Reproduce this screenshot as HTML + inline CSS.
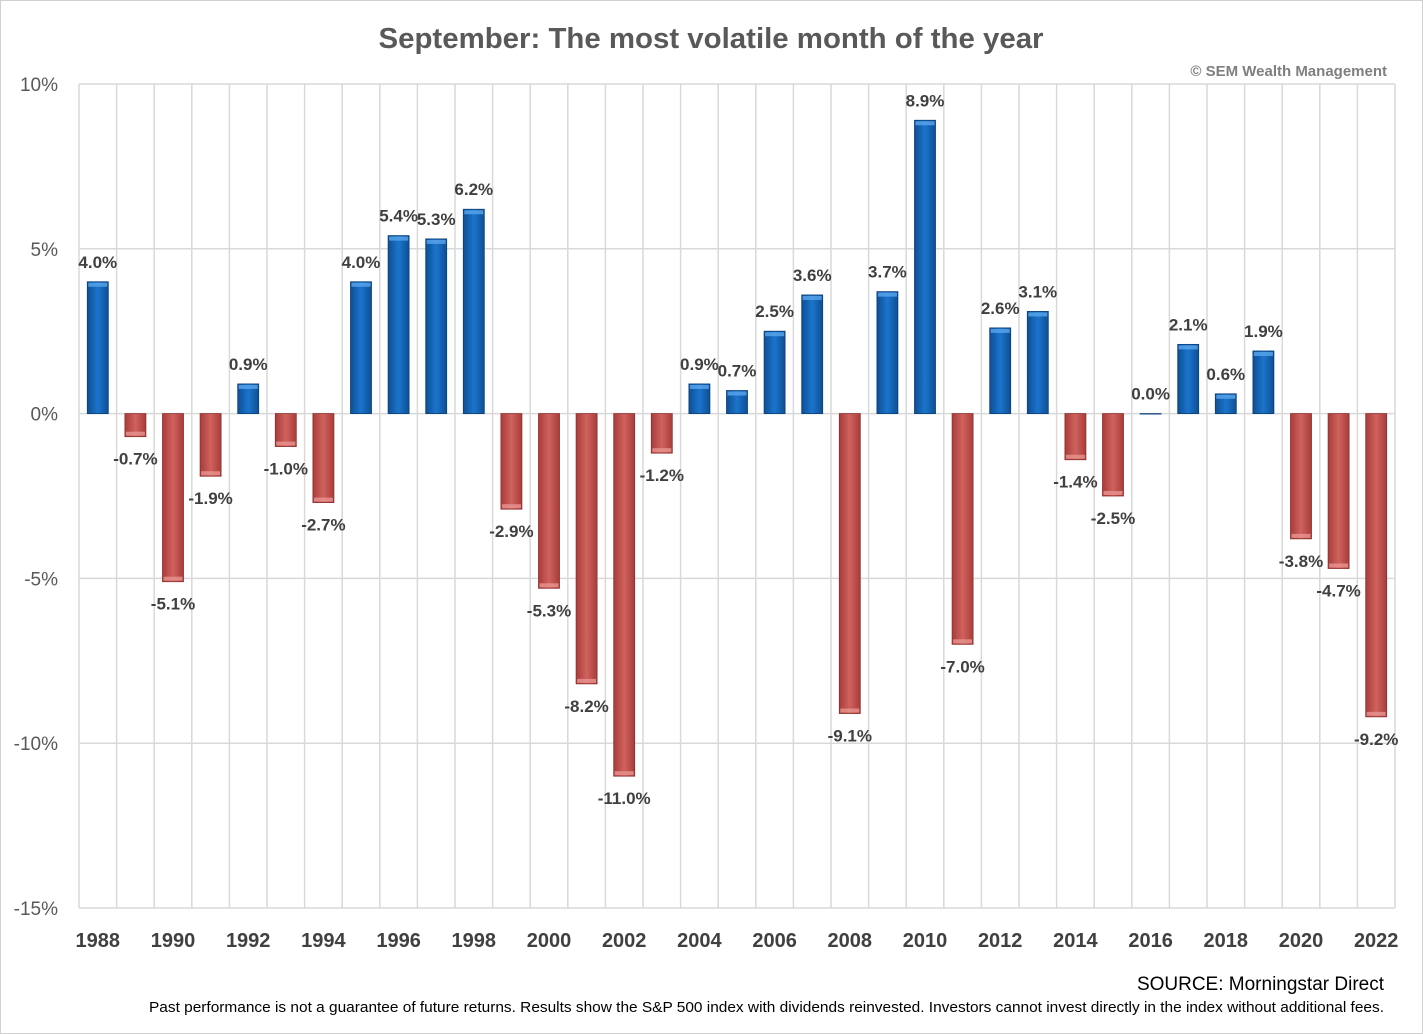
<!DOCTYPE html>
<html><head><meta charset="utf-8"><style>
html,body{margin:0;padding:0;background:#fff;}
svg{display:block;font-family:"Liberation Sans",sans-serif;}
</style></head><body>
<svg id="chart" width="1423" height="1034" viewBox="0 0 1423 1034" xmlns="http://www.w3.org/2000/svg">
<defs>
<linearGradient id="gb" x1="0" x2="1" y1="0" y2="0"><stop offset="0" stop-color="#0d4f94"/><stop offset="0.5" stop-color="#1b75cc"/><stop offset="1" stop-color="#0d4f94"/></linearGradient>
<linearGradient id="gr" x1="0" x2="1" y1="0" y2="0"><stop offset="0" stop-color="#a83c39"/><stop offset="0.5" stop-color="#d0625e"/><stop offset="1" stop-color="#a83c39"/></linearGradient>
</defs>
<rect x="0.5" y="0.5" width="1422" height="1033" fill="#fff" stroke="#d0d0d0"/>
<text x="711" y="48" text-anchor="middle" font-size="29" font-weight="bold" fill="#595959" textLength="665" lengthAdjust="spacingAndGlyphs">September: The most volatile month of the year</text>
<text x="1387" y="76" text-anchor="end" font-size="15" font-weight="bold" fill="#7f7f7f">© SEM Wealth Management</text>
<g id="grid"></g><g id="bars"></g><g id="labels"></g><g id="axes"></g>
<text x="1384" y="990" text-anchor="end" font-size="19" fill="#000">SOURCE: Morningstar Direct</text>
<text x="1384" y="1012" text-anchor="end" font-size="15" fill="#000" textLength="1235" lengthAdjust="spacingAndGlyphs">Past performance is not a guarantee of future returns. Results show the S&amp;P 500 index with dividends reinvested. Investors cannot invest directly in the index without additional fees.</text>
</svg>
<script>
const years=[1988,1989,1990,1991,1992,1993,1994,1995,1996,1997,1998,1999,2000,2001,2002,2003,2004,2005,2006,2007,2008,2009,2010,2011,2012,2013,2014,2015,2016,2017,2018,2019,2020,2021,2022];
const returns=[4.0,-0.7,-5.1,-1.9,0.9,-1.0,-2.7,4.0,5.4,5.3,6.2,-2.9,-5.3,-8.2,-11.0,-1.2,0.9,0.7,2.5,3.6,-9.1,3.7,8.9,-7.0,2.6,3.1,-1.4,-2.5,0.0,2.1,0.6,1.9,-3.8,-4.7,-9.2];
const yTicks=[10,5,0,-5,-10,-15];
const NS="http://www.w3.org/2000/svg";
const L=79,R=1395,T=84,B=908,yMax=10,yMin=-15;
const step=(R-L)/years.length;
const y=v=>T+(yMax-v)/(yMax-yMin)*(B-T);
const xc=i=>L+step*(i+0.5);
function mk(tag,attrs,parent,txt){const e=document.createElementNS(NS,tag);for(const k in attrs)e.setAttribute(k,attrs[k]);if(txt!==undefined)e.textContent=txt;document.getElementById(parent).appendChild(e);return e;}
yTicks.forEach(t=>{
  const g=mk('line',{x1:L,x2:R,y1:y(t),y2:y(t),stroke:'#d9d9d9','stroke-width':1.5},'grid');
  
  
  const lb=mk('text',{x:58,y:y(t)+7,'text-anchor':'end','font-size':19,fill:'#595959'},'axes',t+'%');
  
  
});
for(let i=0;i<=years.length;i++){
  const g=mk('line',{x1:L+step*i,x2:L+step*i,y1:T,y2:B,stroke:'#d9d9d9','stroke-width':1.5},'grid');
  
  
}
const bw=21;
returns.forEach((v,i)=>{
  const x=xc(i),y0=y(0),y1=y(v),top=Math.min(y0,y1),h=Math.max(Math.abs(y1-y0),0.5);
  const pos=v>=0;
  const b=mk('rect',{x:x-bw/2,y:top,width:bw,height:h,fill:pos?'url(#gb)':'url(#gr)',stroke:pos?'#0b3f78':'#8c2f2c','stroke-width':0.8},'bars');
  
  
  if(h>4){const e=mk('rect',{x:x-bw/2+1,y:pos?top+1:top+h-5,width:bw-2,height:4,fill:pos?'#5aa6ee':'#e89592',opacity:0.8},'bars');
    
    }
  const ly=pos?y1-14:y1+28;
  const t=mk('text',{x:x,y:ly,'text-anchor':'middle','font-size':17,'font-weight':'bold',fill:'#404040'},'labels',v.toFixed(1)+'%');
  
  
  if(i%2===0){const xl=mk('text',{x:x,y:947,'text-anchor':'middle','font-size':20,'font-weight':'bold',fill:'#404040'},'axes',String(years[i]));
    
    }
});
</script>
</body></html>
